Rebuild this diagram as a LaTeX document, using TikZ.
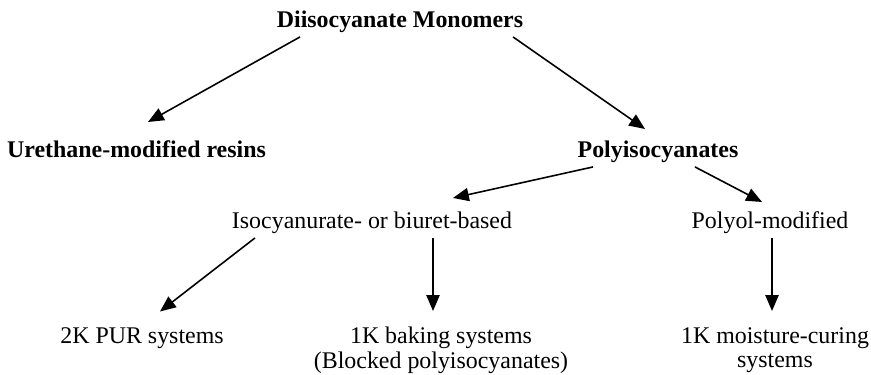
\documentclass[tikz,border=0pt]{standalone}
\usepackage{fontspec}
\setmainfont{Liberation Serif}
\usetikzlibrary{arrows.meta}
\tikzstyle{head}=[font=\fontsize{13.6}{14}\selectfont\bfseries,anchor=north,inner sep=0.08cm]
\tikzstyle{item}=[font=\fontsize{13.6}{14}\selectfont,anchor=north,inner sep=0.08cm,align=center]
\tikzstyle{edge}=[draw,line width=0.9pt,-{Triangle[length=9pt,width=7.5pt]}]

\begin{document}
\begin{tikzpicture}
    \useasboundingbox (0,0) rectangle (17.42,7.48);
    % Bold entries: monomers and the two main routes
    \foreach \pos/\name/\txt in {{(8.00,7.35)/mono/Diisocyanate Monomers},
        {(2.73,4.75)/ure/Urethane-modified resins},{(13.16,4.75)/poly/Polyisocyanates}}
        \node[head] (\name) at \pos {\txt};

    % Plain entries: polyisocyanate types and the systems made from them
    \foreach \pos/\name/\txt in {{(7.44,3.33)/iso/Isocyanurate- or biuret-based},
        {(15.40,3.33)/polyol/Polyol-modified},{(2.84,1.02)/pur/2K PUR systems},
        {(8.82,1.02)/bake/{1K baking systems\\(Blocked polyisocyanates)}},
        {(15.50,1.02)/moist/{1K moisture-curing\\systems}}}
        \node[item] (\name) at \pos {\txt};

    % Arrows between the entries
    \path[edge] ([xshift=-2.00cm]mono.south) -- ([xshift=0.23cm,yshift=0.29cm]ure.north);
    \path[edge] ([xshift=2.26cm]mono.south) -- ([xshift=-0.26cm,yshift=0.15cm]poly.north);
    \path[edge] ([xshift=-1.30cm]poly.south) -- ([xshift=1.62cm,yshift=0.19cm]iso.north);
    \path[edge] ([xshift=0.74cm]poly.south) -- ([xshift=-0.16cm,yshift=0.11cm]polyol.north);
    \path[edge] ([xshift=-2.34cm]iso.south) -- ([xshift=0.36cm,yshift=0.23cm]pur.north);
    \path[edge] ([xshift=1.22cm]iso.south) -- ([xshift=-0.16cm,yshift=0.24cm]bake.north);
    \path[edge] ([xshift=0.04cm]polyol.south) -- ([xshift=-0.06cm,yshift=0.24cm]moist.north);
\end{tikzpicture}
\end{document}
